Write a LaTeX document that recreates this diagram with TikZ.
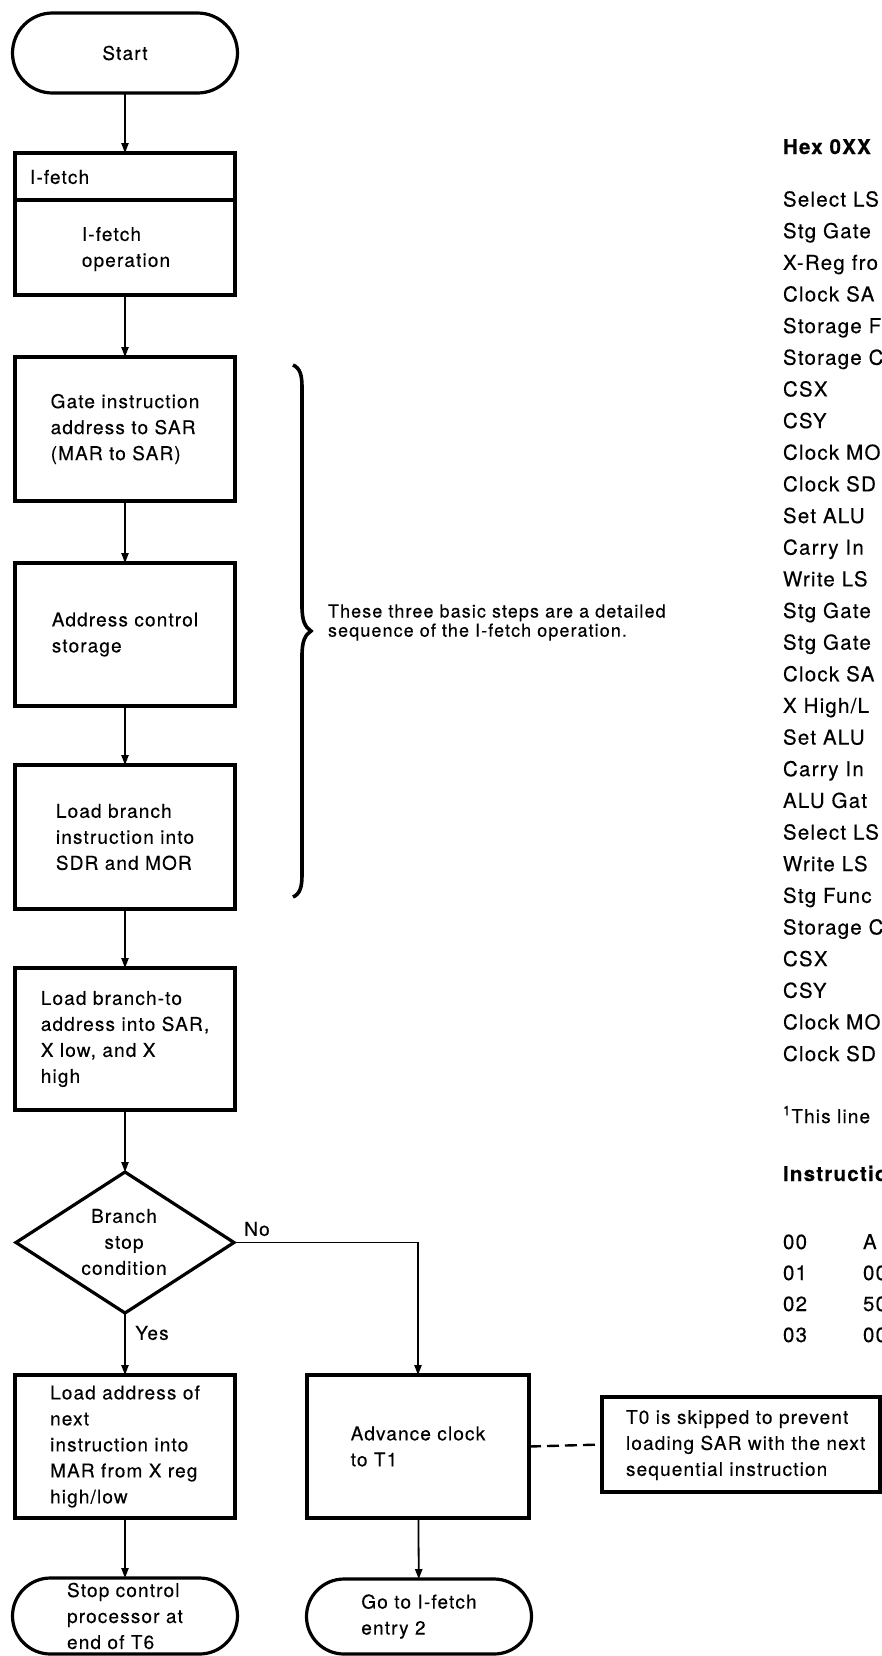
\documentclass[tikz,border=0pt]{standalone}
\usepackage{fontspec}
\setmainfont{TeX Gyre Heros}[LetterSpace=6, FakeBold=0.3]
\usetikzlibrary{shapes.geometric,arrows.meta}

\begin{document}
\begin{tikzpicture}[x=0.5pt,y=-0.5pt,
  every node/.style={font=\fontsize{9.5}{13}\selectfont, inner sep=0pt, outer sep=0pt},
  box/.style={draw, line width=1.6pt, minimum width=110pt, align=left},
  term/.style={draw, line width=1.6pt, minimum width=112.5pt, align=left},
  flow/.style={line width=0.9pt, -{Triangle[length=5pt,width=3.6pt]}},
  linkline/.style={line width=1.2pt, dash pattern=on 6pt off 3pt},
  listtext/.style={anchor=base west, font=\fontsize{10.25}{12}\selectfont},
  listhead/.style={anchor=base west, font=\fontsize{10.25}{12}\selectfont\bfseries}
]
% page frame
\fill[white] (0,0) rectangle (882,1656);
\useasboundingbox (0,0) rectangle (882,1656);
\clip (0,0) rectangle (882,1656);

% ---------- main column ----------
\node[term, minimum height=40pt, rounded corners=20pt, align=center] (start) at (125,53) {Start};

\node[box, minimum height=71pt] (ifetch) at (125,224) {};
\coordinate (hdiv) at (0,200);
\draw[line width=1.6pt] (ifetch.west |- hdiv) -- (ifetch.east |- hdiv);
\node[anchor=west] (ifetchhead) at (30,177) {I-fetch};
\node[align=left] (ifetchbody) at (126,249) {I-fetch\\operation};

\node[box, minimum height=72pt] (gate) at (125,429) {Gate instruction\\address to SAR\\(MAR to SAR)};
\node[box, minimum height=71.5pt] (addr) at (125,634.5) {Address control\\storage};
\node[box, minimum height=72pt] (loadbr) at (125,837) {Load branch\\instruction into\\SDR and MOR};
\node[box, minimum height=71pt] (loadto) at (125,1039) {Load branch-to\\address into SAR,\\X low, and X\\high};

\node[draw, diamond, line width=1.6pt, minimum width=109pt, minimum height=70.5pt, inner sep=0pt] (cond) at (125,1242.5) {};
\node[align=center] (condtext) at (124,1242) {Branch\\stop\\condition};

\node[box, minimum height=71.5pt] (next) at (125,1446.5) {Load address of\\next\\instruction into\\MAR from X reg\\high/low};
\node[term, minimum height=38pt, rounded corners=19pt] (stop) at (125,1616) {Stop control\\processor at\\end of T6};

% ---------- "No" branch ----------
\node[box, minimum width=111pt, minimum height=71.5pt] (adv) at (418,1446.5) {Advance clock\\to T1};
\node[term, minimum height=37.5pt, rounded corners=18.75pt] (go) at (419,1616.5) {Go to I-fetch\\entry 2};

% remark box with its text set from the left edge
\node[draw, line width=1.6pt, minimum width=139pt, minimum height=47.5pt] (note) at (741,1444.5) {};
\node[anchor=west, align=left] (notetext) at (626,1445)
  {T0 is skipped to prevent\\loading SAR with the next\\sequential instruction};

% ---------- connectors ----------
\draw[flow] (start) -- (ifetch);
\draw[flow] (ifetch) -- (gate);
\draw[flow] (gate) -- (addr);
\draw[flow] (addr) -- (loadbr);
\draw[flow] (loadbr) -- (loadto);
\draw[flow] (loadto) -- (cond);
\draw[flow] (cond.south) -- (next.north);
\draw[flow] (cond.east) -- (cond.east -| adv.north) -- (adv.north);
\draw[flow] (next) -- (stop);
\draw[flow] (adv) -- (go);
\draw[linkline] (adv.east) -- (note.west);

\node (nolabel) at (257,1229) {No};
\node (yeslabel) at (152,1333) {Yes};

% ---------- brace and its remark ----------
\draw[line width=1.8pt]
  (293,365) .. controls (300,368) and (302,375) .. (302,387)
  -- (302,606) .. controls (302,621) and (305,627) .. (311,631)
  .. controls (305,635) and (302,641) .. (302,656)
  -- (302,875) .. controls (302,887) and (300,894) .. (293,897);
\node[anchor=west, align=left, font=\fontsize{9}{9.6}\selectfont] (bracenote) at (328,622.5)
  {These three basic steps are a detailed\\sequence of the I-fetch operation.};

% ---------- microcode list ----------
\node[listhead] (hexhead) at (783,154) {Hex 0XX};
\foreach \t [count=\i] in {Select LS,Stg Gate,X-Reg fro,Clock SA,Storage F,Storage C,CSX,CSY,
  Clock MO,Clock SD,Set ALU,Carry In,Write LS,Stg Gate,Stg Gate,Clock SA,X High/L,Set ALU,
  Carry In,ALU Gat,Select LS,Write LS,Stg Func,Storage C,CSX,CSY,Clock MO,Clock SD}
  \node[listtext] (item\i) at (783,{206.5+(\i-1)*31.65}) {\t};

\node[listtext, font=\fontsize{9.5}{11}\selectfont] (footnote) at (783,1123) {\textsuperscript{1}This line};
\node[listhead] (insthead) at (783,1181) {Instructio};
\foreach \a/\b [count=\i] in {00/A,01/00,02/50,03/00} {
  \node[listtext] (addr\i) at (783,{1249+(\i-1)*31}) {\a};
  \node[listtext] (word\i) at (863,{1249+(\i-1)*31}) {\b};
}
\end{tikzpicture}
\end{document}
